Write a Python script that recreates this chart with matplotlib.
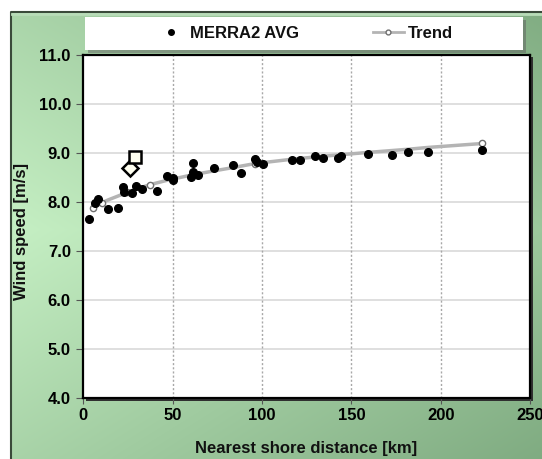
import numpy as np
import matplotlib
matplotlib.use('Agg')
import matplotlib.pyplot as plt
from matplotlib.colors import to_rgb
from matplotlib.patches import Rectangle
from matplotlib.lines import Line2D

# data
dist_km = [3.2, 6.4, 8.1, 14.0, 19.6, 22.4, 22.8, 27.4, 29.5, 32.7, 41.1,
           47.0, 50.4, 50.4, 60.1, 61.2, 61.6, 64.0, 73.1, 83.6, 88.1,
           96.1, 97.4, 100.4, 116.8, 121.3, 129.7, 134.0, 142.7, 144.0,
           159.5, 172.6, 181.5, 193.1, 223.3]
wind_avg = [7.65, 7.98, 8.07, 7.87, 7.88, 8.32, 8.20, 8.18, 8.33, 8.27, 8.23,
            8.54, 8.49, 8.46, 8.51, 8.62, 8.81, 8.56, 8.69, 8.76, 8.60,
            8.89, 8.82, 8.78, 8.87, 8.86, 8.94, 8.91, 8.90, 8.94,
            8.99, 8.96, 9.02, 9.03, 9.07]

trend_x = [5.6, 10.3, 14.0, 19.6, 24.3, 29.5, 37.3, 47.0, 61.0, 73.0,
           84.0, 96.0, 117.0, 134.0, 160.0, 181.0, 193.0, 223.3]
trend_y = [7.88, 7.99, 8.05, 8.13, 8.20, 8.27, 8.36, 8.45, 8.56, 8.64,
           8.71, 8.79, 8.88, 8.94, 9.02, 9.08, 9.12, 9.20]
trend_marked = [0, 1, 4, 6, 11, 17]   # hollow markers visible in the picture

diamond_pt = (26.1, 8.69)
square_pt = (28.8, 8.92)

x_ticks = [0, 50, 100, 150, 200, 250]
y_ticks = [4.0, 5.0, 6.0, 7.0, 8.0, 9.0, 10.0, 11.0]

plt.rcParams['font.family'] = ['Liberation Sans', 'DejaVu Sans']
plt.rcParams['font.weight'] = 'bold'
plt.rcParams['font.size'] = 12
plt.rcParams['text.color'] = '#111111'

W, H = 542, 459
fig = plt.figure(figsize=(W / 100, H / 100), dpi=100)

# green gradient background inside the outer frame
bg = fig.add_axes([0, 0, 1, 1], zorder=-10)
bg.set_xlim(0, W)
bg.set_ylim(H, 0)
bg.axis('off')
xx, yy = np.meshgrid(np.linspace(0, 1, W), np.linspace(0, 1, H))
t = np.clip(0.55 * xx + 0.75 * np.abs(yy - 0.5), 0, 1)
light = np.array(to_rgb('#c6f0c4'))
dark = np.array(to_rgb('#7aa67c'))
img = light[None, None, :] * (1 - t[..., None]) + dark[None, None, :] * t[..., None]
img[:12, :, :] = 1.0
img[:, :11, :] = 1.0
bg.imshow(img, extent=(0, W, H, 0), aspect='auto', interpolation='bilinear')
bg.plot([11, 11, W], [H, 12, 12], color='#3a4a3a', lw=1.5)
bg.plot([12, W], [14, 14], color='#b8dcb8', lw=2)

# legend box
bg.add_patch(Rectangle((88, 20), 438, 33, facecolor='#606060', edgecolor='none', alpha=0.5))
bg.add_patch(Rectangle((85, 17), 438, 33, facecolor='white', edgecolor='none'))
# plot shadow
bg.add_patch(Rectangle((86, 57), 447, 344, facecolor='#303030', edgecolor='none'))

ax = fig.add_axes([83.3 / W, 1 - 398.3 / H, (530 - 83.3) / W, (398.3 - 55.3) / H])
ax.set_facecolor('white')
ax.set_xlim(0, 250)
ax.set_ylim(4, 11)
ax.set_xticks(x_ticks)
ax.set_yticks(y_ticks)
ax.set_yticklabels([f'{v:.1f}' for v in y_ticks])
for s in ax.spines.values():
    s.set_linewidth(1.6)
    s.set_color('black')
ax.tick_params(axis='y', length=5, width=0.8, pad=4, color='#555555')
ax.tick_params(axis='x', length=4, width=0.8, pad=3, color='#555555')
for v in y_ticks[1:-1]:
    ax.axhline(v, color='#d9d9d9', lw=1.2, zorder=0)
for v in x_ticks[1:-1]:
    ax.axvline(v, color='#a8a8a8', lw=1.0, ls=(0, (1.5, 1.5)), zorder=0)

ax.plot(trend_x, trend_y, color='#b4b4b4', lw=2.5, marker='o', ms=4.5,
        mfc='white', mec='#707070', mew=1.0, markevery=trend_marked, zorder=2)
ax.plot(dist_km, wind_avg, ls='none', marker='o', ms=5.5, color='black', zorder=3)
ax.plot(*diamond_pt, marker='D', ms=8, mfc='#fffff0', mec='black', mew=1.8, zorder=4)
ax.plot(*square_pt, marker='s', ms=9, mfc='#fffff0', mec='black', mew=1.8, zorder=4)

fig.text(306 / W, 1 - 449 / H, 'Nearest shore distance [km]', ha='center', va='center')
fig.text(22 / W, 1 - 232 / H, 'Wind speed [m/s]', ha='center', va='center', rotation=90)

handles = [Line2D([], [], ls='none', marker='o', ms=4, color='black'),
           Line2D([], [], color='#b4b4b4', lw=2, marker='o', ms=3.5,
                  mfc='white', mec='#707070')]
fig.legend(handles, ['MERRA2 AVG', 'Trend'], loc='center', ncol=2,
           bbox_to_anchor=(304 / W, 1 - 33.5 / H), frameon=False,
           handlelength=1.9, handletextpad=0.2, columnspacing=4.4)

fig.savefig('out.png', dpi=100)
